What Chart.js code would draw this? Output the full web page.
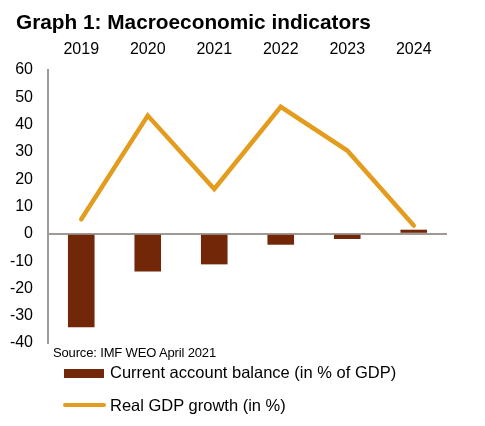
<!DOCTYPE html>
<html>
<head>
<meta charset="utf-8">
<script src="https://cdn.jsdelivr.net/npm/chart.js@4"></script>
<style>
  body { margin: 0; background: #fff; font-family: "Liberation Sans", Arial, sans-serif; }
  #wrap { position: relative; width: 485px; height: 426px; }
  #grafico { position: absolute; left: 0; top: 0; }
  .txt { position: absolute; color: #000; white-space: nowrap; }
  #titulo { left: 16px; top: 10px; font-size: 20.8px; font-weight: bold; }
  #fuente { left: 53px; top: 345px; font-size: 13px; letter-spacing: -0.15px; }
  .leyenda { left: 110px; font-size: 16.5px; }
  .muestra { position: absolute; }
</style>
</head>
<body>
<div id="wrap">
  <canvas id="grafico" width="485" height="426"></canvas>
  <div class="txt" id="titulo">Graph 1: Macroeconomic indicators</div>
  <div class="txt" id="fuente">Source: IMF WEO April 2021</div>
  <div class="muestra" style="left:64px; top:369px; width:40px; height:9px; background:#722808;"></div>
  <div class="txt leyenda" style="top:363px;">Current account balance (in % of GDP)</div>
  <div class="muestra" style="left:63px; top:403px; width:43px; height:4px; border-radius:2px; background:#E39C1D;"></div>
  <div class="txt leyenda" style="top:396px;">Real GDP growth (in %)</div>
</div>
<script>
const anios = ["2019", "2020", "2021", "2022", "2023", "2024"];
const cuentaCorriente = [-34.2, -13.8, -11.2, -4.0, -1.9, 1.5];
const crecimientoPib = [5.3, 43.3, 16.4, 46.5, 30.5, 3.0];
const ticksY = [-40, -30, -20, -10, 0, 10, 20, 30, 40, 50, 60];

const grafico = document.getElementById("grafico");
const gris = "#A09A96";

const config = {
  data: {
    labels: anios,
    datasets: [
      {
        type: "line",
        label: "Real GDP growth (in %)",
        data: crecimientoPib,
        borderColor: "#E39C1D",
        borderWidth: 4.5,
        borderCapStyle: "round",
        borderJoinStyle: "miter",
        pointRadius: 0,
        tension: 0,
        order: 1,
      },
      {
        type: "bar",
        label: "Current account balance (in % of GDP)",
        data: cuentaCorriente,
        backgroundColor: "#722808",
        categoryPercentage: 1,
        barPercentage: 0.4,
        order: 2,
      },
    ],
  },
  options: {
    responsive: false,
    animation: false,
    layout: { padding: { left: 0, right: 38, top: 0, bottom: 83 } },
    plugins: { legend: { display: false }, tooltip: { enabled: false } },
    scales: {
      x: {
        position: "top",
        offset: true,
        grid: { display: false, drawTicks: false },
        border: { display: false },
        ticks: {
          color: "#000",
          font: { family: "Liberation Sans", size: 16 },
          padding: 11,
          maxRotation: 0,
        },
        afterFit: (escala) => { escala.height = 70; },
      },
      y: {
        min: -40,
        max: 60,
        afterBuildTicks: (escala) => {
          escala.ticks = ticksY.map((v) => ({ value: v }));
        },
        grid: {
          drawTicks: false,
          color: (ctx) => (ctx.tick && ctx.tick.value === 0 ? gris : "transparent"),
          lineWidth: 2,
        },
        border: { display: true, color: gris, width: 2 },
        ticks: {
          color: "#000",
          font: { family: "Liberation Sans", size: 16 },
          padding: 15,
        },
        afterFit: (escala) => { escala.width = 48; },
      },
    },
  },
};

new Chart(grafico, config);
</script>
</body>
</html>
